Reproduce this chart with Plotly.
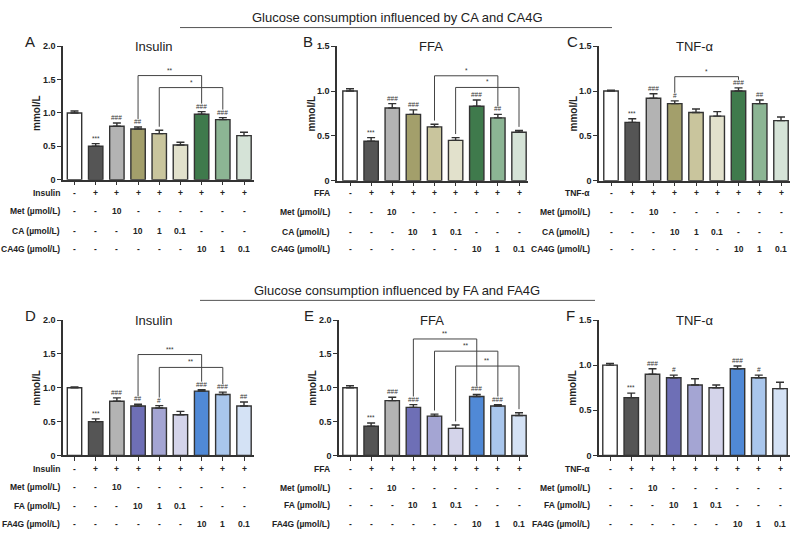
import plotly.graph_objects as go

W, H = 794, 536

# ---------------- data ----------------
A_vals = [1.00, 0.50, 0.80, 0.76, 0.69, 0.52, 0.98, 0.90, 0.66]
A_err = [0.03, 0.04, 0.05, 0.03, 0.05, 0.04, 0.04, 0.03, 0.05]
A_sig = ["", "***", "###", "##", "", "", "###", "###", ""]
A_br = [(3, 6, 1.56, "**"), (4, 7, 1.38, "*")]

B_vals = [1.00, 0.44, 0.81, 0.74, 0.60, 0.45, 0.83, 0.70, 0.54]
B_err = [0.025, 0.04, 0.05, 0.05, 0.03, 0.03, 0.07, 0.04, 0.02]
B_sig = ["", "***", "###", "###", "", "", "###", "##", ""]
B_br = [(4, 7, 1.17, "*"), (5, 8, 1.04, "*")]

C_vals = [1.00, 0.65, 0.92, 0.86, 0.76, 0.72, 1.00, 0.86, 0.67]
C_err = [0.01, 0.04, 0.05, 0.03, 0.04, 0.05, 0.035, 0.04, 0.04]
C_sig = ["", "***", "###", "#", "", "", "###", "##", ""]
C_br = [(3, 6, 1.16, "*")]

D_vals = [1.00, 0.50, 0.80, 0.73, 0.70, 0.60, 0.95, 0.90, 0.73]
D_err = [0.01, 0.04, 0.05, 0.025, 0.035, 0.05, 0.02, 0.035, 0.06]
D_sig = ["", "***", "###", "##", "#", "", "###", "###", "##"]
D_br = [(3, 6, 1.49, "***"), (4, 7, 1.30, "**")]

E_vals = [1.00, 0.43, 0.81, 0.71, 0.58, 0.40, 0.87, 0.73, 0.59]
E_err = [0.03, 0.05, 0.05, 0.04, 0.03, 0.05, 0.03, 0.02, 0.04]
E_sig = ["", "***", "###", "###", "", "", "###", "###", ""]
E_br = [(3, 6, 1.72, "**"), (4, 7, 1.54, "**"), (5, 8, 1.32, "**")]

F_vals = [1.00, 0.64, 0.90, 0.86, 0.78, 0.75, 0.96, 0.86, 0.74]
F_err = [0.02, 0.05, 0.06, 0.03, 0.07, 0.03, 0.03, 0.03, 0.07]
F_sig = ["", "***", "###", "#", "", "", "###", "#", ""]
F_br = []

CA_colors = ["#ffffff", "#555555", "#b3b3b3", "#a39f6b", "#c9c59d", "#e2e1cc", "#3f7a4c", "#8cb594", "#d5e3d7"]
FA_colors = ["#ffffff", "#555555", "#b3b3b3", "#6e6fb6", "#a4a5d3", "#d4d4ea", "#5089d6", "#a9c6ec", "#d4e2f5"]

inducer_row = ["-", "+", "+", "+", "+", "+", "+", "+", "+"]
met_row = ["-", "-", "10", "-", "-", "-", "-", "-", "-"]
cmp_row = ["-", "-", "-", "10", "1", "0.1", "-", "-", "-"]
glc_row = ["-", "-", "-", "-", "-", "-", "10", "1", "0.1"]

ticks_2 = [0, 0.5, 1.0, 1.5, 2.0]
ticks_15 = [0, 0.5, 1.0, 1.5]
tick_text = {0: "0", 0.5: "0.5", 1.0: "1.0", 1.5: "1.5", 2.0: "2.0"}

title_top = "Glucose consumption influenced by CA and CA4G"
title_bot = "Glucose consumption influenced by FA and FA4G"

# ---------------- layout geometry (pixels) ----------------
panels = [
    dict(letter="A", title="Insulin", vals=A_vals, err=A_err, sig=A_sig, br=A_br, colors=CA_colors,
         cmp="CA", ind="Insulin", ticks=ticks_2, axl=63, axr=254, zero=178, top=42, b0=74.5, bN=244,
         rows=[192, 210, 230, 249], lblr=62, letx=30, titx=154),
    dict(letter="B", title="FFA", vals=B_vals, err=B_err, sig=B_sig, br=B_br, colors=CA_colors,
         cmp="CA", ind="FFA", ticks=ticks_15, axl=337, axr=528, zero=179, top=42, b0=350, bN=519,
         rows=[192, 211, 231, 249], lblr=332, letx=308, titx=431),
    dict(letter="C", title="TNF-α", vals=C_vals, err=C_err, sig=C_sig, br=C_br, colors=CA_colors,
         cmp="CA", ind="TNF-α", ticks=ticks_15, axl=599, axr=790, zero=179, top=42, b0=611, bN=781,
         rows=[192, 211, 231, 249], lblr=592, letx=572, titx=695),
    dict(letter="D", title="Insulin", vals=D_vals, err=D_err, sig=D_sig, br=D_br, colors=FA_colors,
         cmp="FA", ind="Insulin", ticks=ticks_2, axl=63, axr=254, zero=459, top=321, b0=74.5, bN=244,
         rows=[473, 491, 511, 529], lblr=62, letx=30, titx=154),
    dict(letter="E", title="FFA", vals=E_vals, err=E_err, sig=E_sig, br=E_br, colors=FA_colors,
         cmp="FA", ind="FFA", ticks=ticks_2, axl=339, axr=528, zero=459, top=321, b0=350, bN=519,
         rows=[473, 492, 510, 529], lblr=332, letx=309, titx=432),
    dict(letter="F", title="TNF-α", vals=F_vals, err=F_err, sig=F_sig, br=F_br, colors=FA_colors,
         cmp="FA", ind="TNF-α", ticks=ticks_15, axl=599, axr=790, zero=459, top=321, b0=610, bN=780,
         rows=[473, 492, 510, 529], lblr=592, letx=570, titx=695),
]

FONT = "Arial, Liberation Sans, Helvetica, sans-serif"


def px(x):
    return x / W


def py(y):
    return 1 - y / H


fig = go.Figure()
annotations = []
shapes = []
layout = dict(
    width=W, height=H, margin=dict(l=0, r=0, t=0, b=0),
    paper_bgcolor="white", plot_bgcolor="white", showlegend=False,
    font=dict(family=FONT, color="#222222"),
)

for k, p in enumerate(panels, start=1):
    xa = "x" if k == 1 else f"x{k}"
    ya = "y" if k == 1 else f"y{k}"
    n = len(p["vals"])
    sp = (p["bN"] - p["b0"]) / (n - 1)
    xr = [(p["axl"] - p["b0"]) / sp, (n - 1) + (p["axr"] - p["bN"]) / sp]
    ymax = p["ticks"][-1]

    fig.add_trace(go.Bar(
        x=list(range(n)), y=p["vals"], xaxis=xa, yaxis=ya, width=0.68,
        marker=dict(color=p["colors"], line=dict(color="#333333", width=1.4)),
        error_y=dict(type="data", array=p["err"], arrayminus=[0] * n, symmetric=False,
                     color="#333333", thickness=1.4, width=4),
    ))

    layout["xaxis" if k == 1 else f"xaxis{k}"] = dict(
        domain=[px(p["axl"]), px(p["axr"])], range=xr, anchor=ya,
        showline=True, linecolor="#333333", linewidth=1.5, showgrid=False, zeroline=False,
        ticks="outside", ticklen=4, tickwidth=1.2, tickcolor="#333333",
        tickvals=list(range(n)), showticklabels=False, fixedrange=True,
    )
    layout["yaxis" if k == 1 else f"yaxis{k}"] = dict(
        domain=[py(p["zero"]), py(p["top"])], range=[0, ymax], anchor=xa,
        showline=True, linecolor="#333333", linewidth=1.5, showgrid=False, zeroline=False,
        ticks="outside", ticklen=4, tickwidth=1.2, tickcolor="#333333",
        tickvals=p["ticks"], ticktext=[tick_text[t] for t in p["ticks"]],
        tickfont=dict(size=9, family=FONT, color="#222222", weight="bold"), fixedrange=True,
    )

    # significance marks above bars
    for i, s in enumerate(p["sig"]):
        if s:
            annotations.append(dict(
                x=i, y=p["vals"][i] + p["err"][i], xref=xa, yref=ya, text=s, showarrow=False,
                yanchor="bottom", yshift=0, font=dict(size=6.5, color="#333333", family=FONT),
            ))

    # comparison brackets
    for (i, j, ytop, lab) in p["br"]:
        def leg(b):
            g = 0.09 if p["sig"][b] else 0.04
            return p["vals"][b] + p["err"][b] + g * ymax / 1.5
        fig.add_trace(go.Scatter(
            x=[i, i, j, j], y=[leg(i), ytop, ytop, leg(j)], xaxis=xa, yaxis=ya,
            mode="lines", line=dict(color="#444444", width=1), hoverinfo="skip", cliponaxis=False,
        ))
        annotations.append(dict(
            x=(i + j) / 2, y=ytop, xref=xa, yref=ya, text=lab, showarrow=False,
            yanchor="bottom", yshift=0, font=dict(size=6.5, color="#333333", family=FONT),
        ))

    # panel title and letter
    annotations.append(dict(x=px(p["titx"]), y=py(p["top"]), xref="paper", yref="paper",
                            text=p["title"], showarrow=False, xanchor="center", yanchor="middle",
                            font=dict(size=13, color="#222222", family=FONT)))
    annotations.append(dict(x=px(p["letx"]), y=py(p["top"] - 5), xref="paper", yref="paper",
                            text=p["letter"], showarrow=False, xanchor="center", yanchor="middle",
                            font=dict(size=15, color="#222222", family=FONT)))
    # y-axis title
    annotations.append(dict(x=px(p["axl"] - 26), y=py((p["zero"] + p["top"]) / 2), xref="paper", yref="paper",
                            text="mmol/L", showarrow=False, textangle=-90, xanchor="center", yanchor="middle",
                            font=dict(size=10, color="#222222", family=FONT, weight="bold")))

    # treatment table
    labels = [p["ind"], "Met (µmol/L)", f"{p['cmp']} (µmol/L)", f"{p['cmp']}4G (µmol/L)"]
    rows = [inducer_row, met_row, cmp_row, glc_row]
    for r, (lab, vals, yy) in enumerate(zip(labels, rows, p["rows"])):
        annotations.append(dict(x=px(p["lblr"]), y=py(yy), xref="paper", yref="paper", text=lab,
                                showarrow=False, xanchor="right", yanchor="middle",
                                font=dict(size=8.5, color="#222222", family=FONT, weight="bold")))
        for i, v in enumerate(vals):
            annotations.append(dict(x=i, y=py(yy), xref=xa, yref="paper", text=v,
                                    showarrow=False, xanchor="center", yanchor="middle",
                                    font=dict(size=8.5, color="#222222", family=FONT, weight="bold")))

# section titles with rules
for txt, ty, ly, x0, x1 in [(title_top, 13, 23, 180, 612), (title_bot, 291, 301, 200, 595)]:
    annotations.append(dict(x=0.5, y=py(ty), xref="paper", yref="paper", text=txt, showarrow=False,
                            xanchor="center", yanchor="middle",
                            font=dict(size=13, color="#222222", family=FONT)))
    shapes.append(dict(type="line", xref="paper", yref="paper", x0=px(x0), x1=px(x1),
                       y0=py(ly), y1=py(ly), line=dict(color="#555555", width=1)))

layout["annotations"] = annotations
layout["shapes"] = shapes
fig.update_layout(**layout)
fig.write_html("out.html")
